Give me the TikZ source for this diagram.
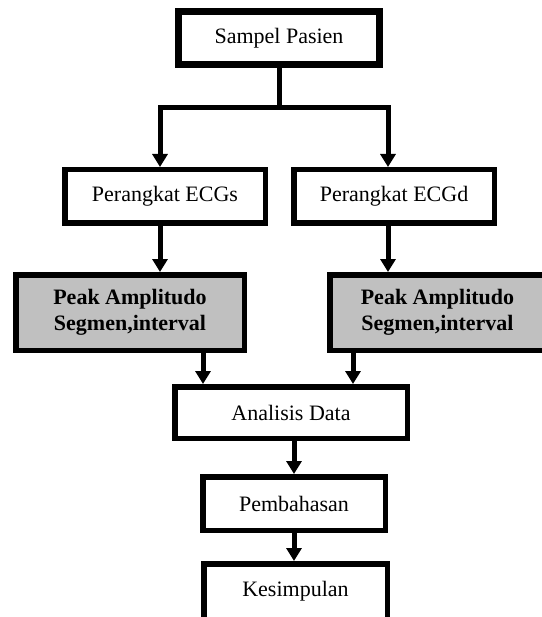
\documentclass[tikz,border=0pt]{standalone}
\usepackage{fontspec}
\setmainfont{Liberation Serif}
\usetikzlibrary{arrows.meta}
\definecolor{boxgray}{RGB}{192,192,192}

\begin{document}
\begin{tikzpicture}[x=1pt,y=-1pt,
        box/.style={draw, line width=5.5pt, inner sep=0pt, align=center,
            font=\fontsize{22}{26}\selectfont},
        graybox/.style={box, fill=boxgray, font=\fontsize{22}{26}\selectfont\bfseries},
        conn/.style={line width=5pt},
        arrow/.style={conn, -{Triangle[length=13pt,width=15pt]}}]
        \useasboundingbox (0,0) rectangle (541,617);

        \node[box, line width=7pt, minimum width=201pt, minimum height=53pt] (pasien) at (279,38) {Sampel Pasien};

        \node[box, minimum width=200.5pt, minimum height=53.5pt] (ecgs) at (165,196.5) {Perangkat ECGs};
        \node[box, minimum width=200.5pt, minimum height=53.5pt] (ecgd) at (394,196.5) {Perangkat ECGd};

        \node[graybox, minimum width=228.5pt, minimum height=75.5pt] (peaks) at (130,312.5) {Peak Amplitudo\\Segmen,interval};
        \node[graybox, minimum width=215.5pt, minimum height=75.5pt] (peakd) at (437.5,312.5) {Peak Amplitudo\\Segmen,interval};

        \node[box, minimum width=232.5pt, minimum height=51.5pt] (analisis) at (291,412.5) {Analisis Data};
        \node[box, minimum width=182.5pt, minimum height=53.5pt] (bahas) at (294,503.5) {Pembahasan};
        \node[box, minimum width=183.5pt, minimum height=55.5pt] (simpul) at (295.5,591.5) {Kesimpulan};

        \coordinate (splitL) at (160,108);
        \coordinate (splitR) at (388,108);
        \coordinate (joinL) at (203,0);
        \coordinate (joinR) at (353,0);

        % split from the top box
        \draw[conn] (pasien.south) -- (pasien.south |- splitL);
        \draw[conn, line cap=rect] (splitL) -- (splitR);
        \draw[arrow] (splitL) -- (splitL |- ecgs.north);
        \draw[arrow] (splitR) -- (splitR |- ecgd.north);

        \draw[arrow] (ecgs.south -| splitL) -- (peaks.north -| splitL);
        \draw[arrow] (ecgd.south -| splitR) -- (peakd.north -| splitR);

        \draw[arrow] (peaks.south -| joinL) -- (analisis.north -| joinL);
        \draw[arrow] (peakd.south -| joinR) -- (analisis.north -| joinR);

        \draw[arrow] (analisis.south -| bahas.north) -- (bahas.north);
        \draw[arrow] (bahas.south) -- (bahas.south |- simpul.north);

    \end{tikzpicture}
\end{document}
